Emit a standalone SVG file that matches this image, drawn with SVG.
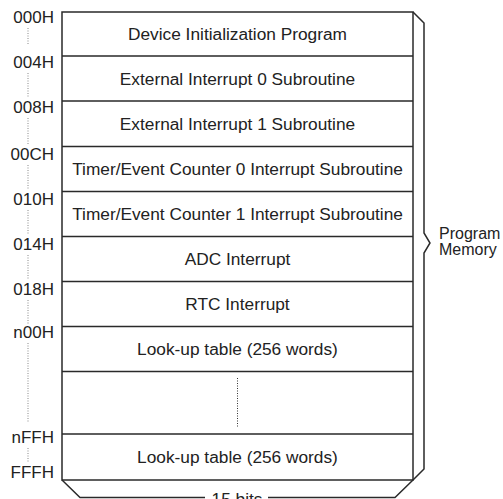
<svg xmlns="http://www.w3.org/2000/svg" width="503" height="499" viewBox="0 0 503 499">
<style>
.t{font-family:"Liberation Sans",Arial,sans-serif;font-size:17.3px;fill:#222;text-anchor:middle}
.a{font-family:"Liberation Sans",Arial,sans-serif;font-size:17px;fill:#222;text-anchor:end}
.r{font-family:"Liberation Sans",Arial,sans-serif;font-size:16px;fill:#222}
.ln{stroke:#2a2a2a;stroke-width:1.5;fill:none}
.dot{stroke:#888;stroke-width:1;stroke-dasharray:1 1.5;fill:none}
.dotm{stroke:#333;stroke-width:1;stroke-dasharray:1 1.5;fill:none}
</style>
<rect width="503" height="499" fill="#fff"/>
<g id="addresses">
<text class="a" x="54" y="23">000H</text>
<text class="a" x="54" y="68">004H</text>
<text class="a" x="54" y="113">008H</text>
<text class="a" x="54" y="160">00CH</text>
<text class="a" x="54" y="205">010H</text>
<text class="a" x="54" y="250">014H</text>
<text class="a" x="54" y="295">018H</text>
<text class="a" x="54" y="338">n00H</text>
<text class="a" x="54" y="443">nFFH</text>
<text class="a" x="54" y="478">FFFH</text>
<path class="dot" d="M28,28V44M28,73V98M28,118V145M28,165V190M28,210V235M28,255V280M28,300V325M28,343V423M28,448V462"/>
</g>
<g id="memory">
<rect class="ln" x="62" y="12" width="351" height="468"/>
<path class="ln" d="M62,56H413M62,101H413M62,146.5H413M62,191.5H413M62,236.5H413M62,281.5H413M62,326.5H413M62,371.5H413M62,434H413"/>
<text class="t" x="237.5" y="40">Device Initialization Program</text>
<text class="t" x="237.5" y="84.5">External Interrupt 0 Subroutine</text>
<text class="t" x="237.5" y="130">External Interrupt 1 Subroutine</text>
<text class="t" x="237.5" y="175">Timer/Event Counter 0 Interrupt Subroutine</text>
<text class="t" x="237.5" y="220">Timer/Event Counter 1 Interrupt Subroutine</text>
<text class="t" x="237.5" y="265">ADC Interrupt</text>
<text class="t" x="237.5" y="310">RTC Interrupt</text>
<text class="t" x="237.5" y="355">Look-up table (256 words)</text>
<path class="dotm" d="M237.5,378V428"/>
<text class="t" x="237.5" y="463">Look-up table (256 words)</text>
</g>
<g id="brace">
<path class="ln" d="M413,12L424,23V233L430,243L424,253V469L413,480"/>
<text class="r" x="439" y="239">Program</text>
<text class="r" x="439" y="255">Memory</text>
</g>
<g id="width">
<path class="ln" d="M62,480L80,497.5H205M268,497.5H395L413,480"/>
<text class="t" x="237" y="505">15 bits</text>
</g>
</svg>
